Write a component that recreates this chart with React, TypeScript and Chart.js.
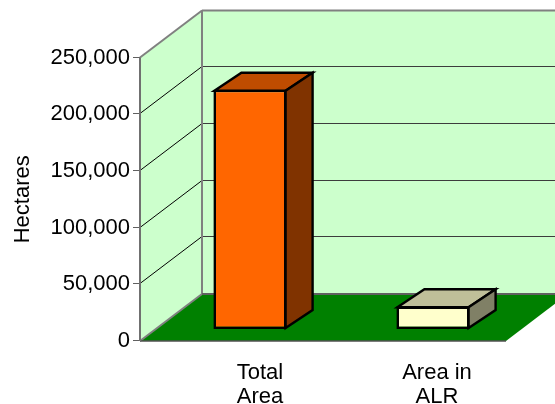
import React, { useEffect, useRef } from "react";
import { Chart, registerables } from "chart.js";

Chart.register(...registerables);

const categories = [["Total", "Area"], ["Area in", "ALR"]];
const hectares = [211000, 20000];
const faceColors = ["#FF6600", "#FFFFCC"];
const topColors = ["#BF4C00", "#BFBF99"];
const sideColors = ["#803300", "#808066"];
const yMax = 250000;
const yStep = 50000;
const yTitle = "Hectares";

const FONT = "'Liberation Sans', Arial, sans-serif";
const FONT_SIZE = 22;
const WALL_DX = 62;
const WALL_DY = 47;
const BAR_SHIFT_X = 18.5;
const BAR_SHIFT_Y = 12;
const BAR_DX = 27;
const BAR_DY = 18;
const LABEL_NUDGE = [2.5, -3.5];
const TICK_LEN = 7;

function poly(ctx: CanvasRenderingContext2D, pts: number[][], fill?: string, stroke?: string, lw = 1) {
  ctx.beginPath();
  pts.forEach(([x, y], i) => (i ? ctx.lineTo(x, y) : ctx.moveTo(x, y)));
  ctx.closePath();
  if (fill) {
    ctx.fillStyle = fill;
    ctx.fill();
  }
  if (stroke) {
    ctx.strokeStyle = stroke;
    ctx.lineWidth = lw;
    ctx.stroke();
  }
}

function line(ctx: CanvasRenderingContext2D, x1: number, y1: number, x2: number, y2: number, color: string, lw: number) {
  ctx.beginPath();
  ctx.moveTo(x1, y1);
  ctx.lineTo(x2, y2);
  ctx.strokeStyle = color;
  ctx.lineWidth = lw;
  ctx.stroke();
}

const box3d = {
  id: "box3d",
  beforeDraw(chart: any) {
    const { ctx, chartArea: a, scales } = chart;
    const y = scales.y;
    const y0 = y.getPixelForValue(0);
    const yTop = y.getPixelForValue(yMax);
    const L = a.left;
    const R = a.right;
    const BL = L + WALL_DX;
    const BR = R + WALL_DX;
    scales.x.getLabelItems(a).forEach((item: any, i: number) => {
      if (!item.nudged) {
        item.options.translation[0] += LABEL_NUDGE[i];
        item.nudged = true;
      }
    });
    ctx.save();
    poly(ctx, [[BL, yTop - WALL_DY], [BR, yTop - WALL_DY], [BR, y0 - WALL_DY], [BL, y0 - WALL_DY]], "#CCFFCC");
    poly(ctx, [[L, yTop], [BL, yTop - WALL_DY], [BL, y0 - WALL_DY], [L, y0]], "#CCFFCC");
    poly(ctx, [[L, y0], [R, y0], [BR, y0 - WALL_DY], [BL, y0 - WALL_DY]], "#008000");
    y.ticks.forEach((t: any) => {
      const v = Math.round(y.getPixelForValue(t.value) - 1) + 0.5;
      line(ctx, L - TICK_LEN, v, L, v, "#606060", 1);
      if (t.value === 0 || t.value === yMax) return;
      line(ctx, L, v, BL, v - WALL_DY, "#000000", 1);
      line(ctx, BL, v - WALL_DY, BR, v - WALL_DY, "#3c3c3c", 1);
    });
    const g = "#808080";
    line(ctx, BL, yTop - WALL_DY, BR, yTop - WALL_DY, g, 2);
    line(ctx, L, yTop, BL, yTop - WALL_DY, g, 2);
    line(ctx, BL, yTop - WALL_DY, BL, y0 - WALL_DY, g, 2);
    line(ctx, L, y0, BL, y0 - WALL_DY, g, 2);
    line(ctx, BL, y0 - WALL_DY, BR, y0 - WALL_DY, "#606060", 2);
    line(ctx, L, y0, R, y0, "#505050", 1.5);
    line(ctx, L, yTop, L, y0, "#707070", 2);
    ctx.restore();
  },
  beforeDatasetDraw(chart: any) {
    chart.ctx.save();
    chart.ctx.translate(BAR_SHIFT_X, -BAR_SHIFT_Y);
  },
  afterDatasetDraw(chart: any) {
    chart.ctx.restore();
    const ctx = chart.ctx;
    const meta = chart.getDatasetMeta(0);
    ctx.save();
    ctx.lineJoin = "miter";
    meta.data.forEach((bar: any, i: number) => {
      const l = bar.x - bar.width / 2 + BAR_SHIFT_X + 1;
      const r = bar.x + bar.width / 2 + BAR_SHIFT_X - 1;
      const t = bar.y - BAR_SHIFT_Y + 1;
      const b = bar.base - BAR_SHIFT_Y - 1;
      poly(ctx, [[l, t], [l + BAR_DX, t - BAR_DY], [r + BAR_DX, t - BAR_DY], [r, t]], topColors[i], "#000000", 2.4);
      poly(ctx, [[r, t], [r + BAR_DX, t - BAR_DY], [r + BAR_DX, b - BAR_DY], [r, b]], sideColors[i], "#000000", 2.4);
    });
    ctx.restore();
  },
};

export default function App() {
  const ref = useRef<HTMLCanvasElement>(null);
  useEffect(() => {
    const chart = new Chart(ref.current as HTMLCanvasElement, {
      type: "bar",
      data: {
        labels: categories as any,
        datasets: [
          {
            label: yTitle,
            data: hectares,
            backgroundColor: faceColors,
            borderColor: "#000000",
            borderWidth: 2.6,
            borderSkipped: false,
            categoryPercentage: 1,
            barPercentage: 0.4,
          },
        ],
      },
      options: {
        animation: false,
        responsive: false,
        devicePixelRatio: 1,
        layout: { padding: { left: 0, top: 57.5, right: 49, bottom: 0 } },
        plugins: { legend: { display: false }, tooltip: { enabled: false }, title: { display: false } },
        scales: {
          x: {
            grid: { display: false },
            border: { display: false },
            ticks: {
              color: "#000000",
              font: { family: FONT, size: FONT_SIZE, lineHeight: 1.09 },
              padding: 12,
              maxRotation: 0,
              minRotation: 0,
              labelOffset: 26,
            },
            afterFit: (s: any) => {
              s.height = 63;
            },
          },
          y: {
            min: 0,
            max: yMax,
            grid: { display: false, drawTicks: false },
            border: { display: false },
            ticks: {
              stepSize: yStep,
              color: "#000000",
              padding: 10,
              font: { family: FONT, size: FONT_SIZE },
              callback: (v: any) => Number(v).toLocaleString("en-US"),
            },
            title: {
              display: true,
              text: yTitle,
              color: "#000000",
              font: { family: FONT, size: FONT_SIZE },
              padding: { top: 10, bottom: 0 },
            },
            afterFit: (s: any) => {
              s.width = 140;
            },
          },
        },
      },
      plugins: [box3d as any],
    } as any);
    return () => chart.destroy();
  }, []);
  return (
    <canvas
      ref={ref}
      width={555}
      height={404}
      style={{ position: "fixed", left: 0, top: 0, width: 555, height: 404, display: "block" }}
    />
  );
}
